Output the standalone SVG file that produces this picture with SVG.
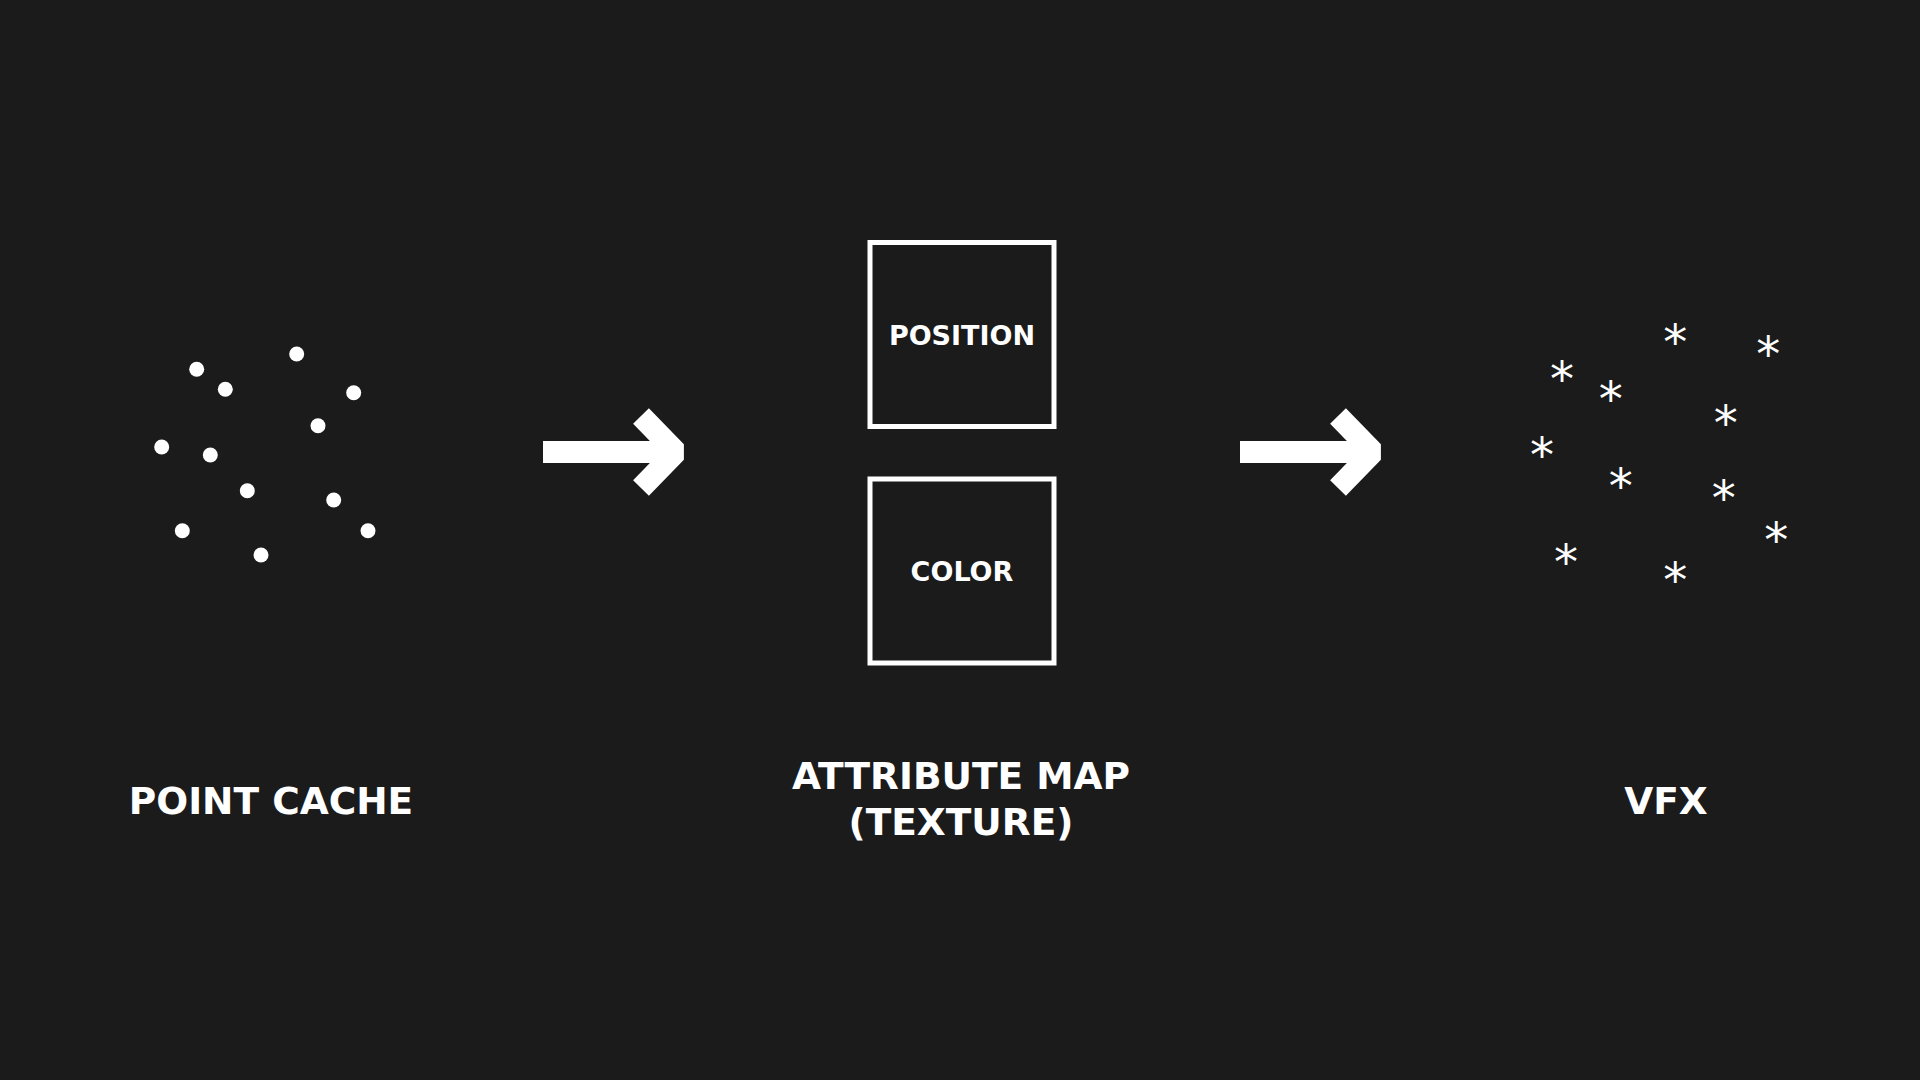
<svg xmlns="http://www.w3.org/2000/svg" width="1920" height="1080" viewBox="0 0 1920 1080">
  <style>
    .bg { fill: #1b1b1b; }
    .label { font-family: "DejaVu Sans", "Liberation Sans", sans-serif; font-weight: bold; font-size: 37.5px; fill: #ffffff; text-anchor: middle; }
    .boxlabel { font-family: "DejaVu Sans", "Liberation Sans", sans-serif; font-weight: bold; font-size: 27px; fill: #ffffff; text-anchor: middle; }
    .box { fill: none; stroke: #ffffff; stroke-width: 5; }
    .dot { fill: #ffffff; }
    .star { font-family: "DejaVu Sans", sans-serif; font-size: 48px; fill: #ffffff; text-anchor: middle; }
    .arrow { fill: none; stroke: #ffffff; stroke-width: 22; }
  </style>
  <defs>
    <g id="arrowShape">
      <line class="arrow" x1="543" y1="452" x2="672" y2="452"/>
      <path class="arrow" d="M 641 416 L 676 452 L 641 488" stroke-linejoin="bevel"/>
    </g>
  </defs>
  <rect class="bg" x="0" y="0" width="1920" height="1080"/>

  <g id="point-cache">
    <circle class="dot" cx="196.7" cy="369.3" r="7.5"/>
    <circle class="dot" cx="225.3" cy="389.3" r="7.5"/>
    <circle class="dot" cx="296.7" cy="354" r="7.5"/>
    <circle class="dot" cx="353.7" cy="392.7" r="7.5"/>
    <circle class="dot" cx="318" cy="425.7" r="7.5"/>
    <circle class="dot" cx="161.7" cy="447" r="7.5"/>
    <circle class="dot" cx="210.3" cy="455" r="7.5"/>
    <circle class="dot" cx="247.3" cy="490.7" r="7.5"/>
    <circle class="dot" cx="333.7" cy="500" r="7.5"/>
    <circle class="dot" cx="182.3" cy="530.7" r="7.5"/>
    <circle class="dot" cx="368" cy="530.7" r="7.5"/>
    <circle class="dot" cx="261" cy="555" r="7.5"/>
    <text class="label" x="271" y="814">POINT CACHE</text>
  </g>

  <g id="attribute-map">
    <g id="position-box">
      <rect class="box" x="870" y="242.5" width="184" height="184"/>
      <text class="boxlabel" x="962" y="344.5">POSITION</text>
    </g>
    <g id="color-box">
      <rect class="box" x="870" y="479" width="184" height="184"/>
      <text class="boxlabel" x="962" y="581">COLOR</text>
    </g>
    <text class="label" x="961" y="789">ATTRIBUTE MAP</text>
    <text class="label" x="961" y="835">(TEXTURE)</text>
  </g>

  <g id="vfx">
    <text class="star" x="1675.3" y="359">*</text>
    <text class="star" x="1768.3" y="371">*</text>
    <text class="star" x="1562" y="396">*</text>
    <text class="star" x="1610.7" y="415.7">*</text>
    <text class="star" x="1725.7" y="440">*</text>
    <text class="star" x="1542" y="472">*</text>
    <text class="star" x="1620.7" y="502.7">*</text>
    <text class="star" x="1723.7" y="514.7">*</text>
    <text class="star" x="1776.3" y="557.3">*</text>
    <text class="star" x="1566" y="579.3">*</text>
    <text class="star" x="1675.3" y="596.7">*</text>
    <text class="label" x="1666" y="814">VFX</text>
  </g>

  <g id="connectors">
    <use id="arrow-1" href="#arrowShape"/>
    <use id="arrow-2" href="#arrowShape" transform="translate(697 0)"/>
  </g>
</svg>
